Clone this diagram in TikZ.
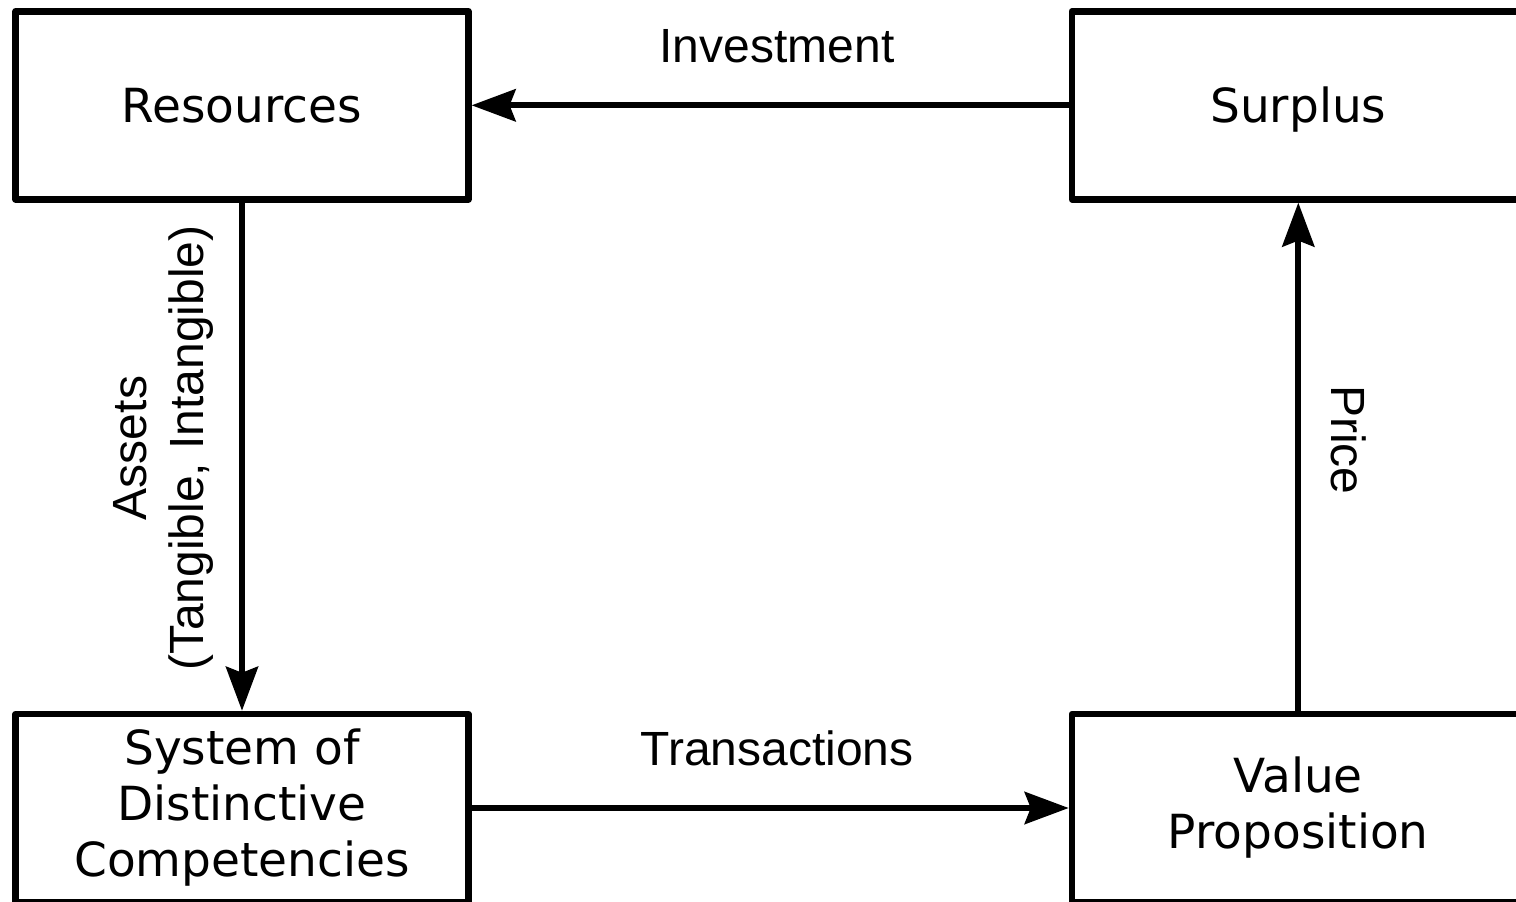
\documentclass[tikz,border=0pt]{standalone}
\usepackage{fontspec}
\newfontfamily\boxfont{DejaVu Sans}
\newfontfamily\lblfont{Liberation Sans}
\usetikzlibrary{arrows.meta,calc}
\begin{document}
\begin{tikzpicture}[x=0.5pt,y=-0.5pt,
  box/.style={draw, line width=3.25pt, line join=round, inner sep=0pt,
    minimum width=226.3pt, minimum height=94pt, align=center,
    font=\boxfont\fontsize{23.5}{28}\selectfont},
  onebox/.style={box, text height=17pt, text depth=0pt},
  lbl/.style={inner sep=0pt, font=\lblfont\fontsize{24}{28.5}\selectfont},
  arr/.style={line width=3.1pt, -{Stealth[length=22pt,width=16pt,inset=3pt]}}]
\useasboundingbox (0,0) rectangle (1516,901);
\clip (0,0) rectangle (1516,901);
\node[onebox] (res) at (242,105.3) {Resources};
\node[onebox] (sur) at (1298.3,105.3) {Surplus};
\node[box] (sys) at (242,808) {System of\\Distinctive\\Competencies};
\node[box] (vp) at (1298.3,808) {Value\\Proposition};
\draw[arr] (sur.west) -- (res.east);
\draw[arr] (res.south) -- (sys.north);
\draw[arr] (sys.east) -- (vp.west);
\draw[arr] (vp.north) -- (sur.south);
\node[lbl, anchor=base] (linv) at (777,62) {Investment};
\node[lbl, anchor=base] (ltr) at (777,765) {Transactions};
\node[lbl, rotate=90, align=center] (lass) at (163,448) {Assets\\(Tangible, Intangible)};
\node[lbl, rotate=-90] (lpr) at (1349,440) {Price};
\end{tikzpicture}
\end{document}
